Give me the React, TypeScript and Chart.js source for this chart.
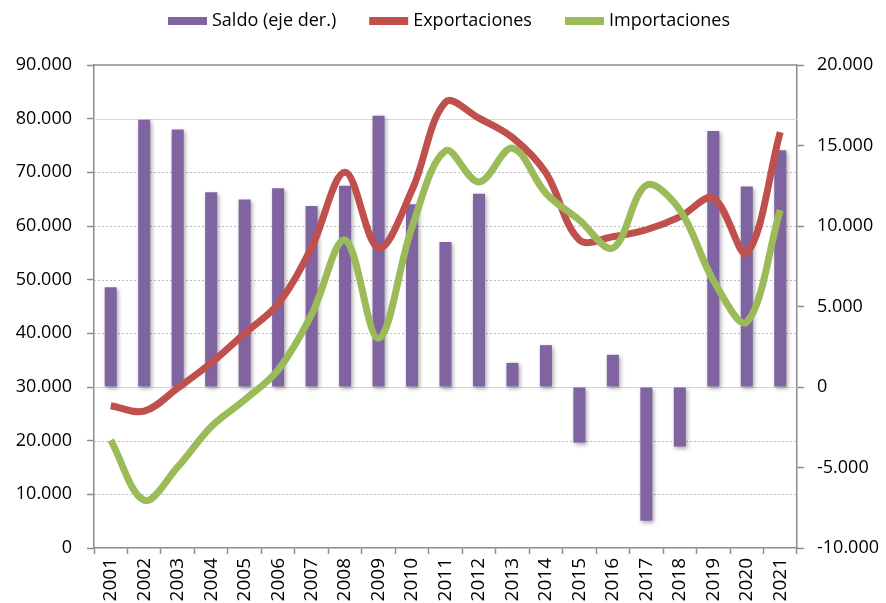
import React, { useEffect, useRef } from "react";
import { Chart, registerables } from "chart.js";

Chart.register(...registerables);

const years = [
  "2001", "2002", "2003", "2004", "2005", "2006", "2007", "2008", "2009", "2010", "2011",
  "2012", "2013", "2014", "2015", "2016", "2017", "2018", "2019", "2020", "2021",
];

const saldo = [
  6200, 16600, 16000, 12100, 11650, 12350, 11250, 12500, 16850, 11350, 9000,
  12000, 1500, 2600, -3450, 2000, -8300, -3700, 15900, 12450, 14700,
];

const exportaciones = [
  26500, 25500, 29800, 34500, 40000, 45500, 56000, 70000, 55900, 66700, 83100,
  80100, 76500, 69900, 57400, 58000, 59300, 61700, 65200, 55000, 77500,
];

const importaciones = [
  20100, 8900, 15100, 22600, 27600, 33200, 43500, 57400, 39100, 59800, 74000,
  68200, 74500, 66100, 61100, 55900, 67600, 63000, 49900, 42100, 63000,
];

const leftMin = 0;
const leftMax = 90000;
const leftStep = 10000;
const rightMin = -10000;
const rightMax = 20000;
const rightStep = 5000;

const seriesLabels = ["Saldo (eje der.)", "Exportaciones", "Importaciones"];
const seriesColors = ["#8064A2", "#C0504D", "#9BBB59"];

const FONT = "'Open Sans', 'DejaVu Sans', sans-serif";

function fmt(v: number): string {
  const s = Math.abs(Math.round(v)).toString().replace(/\B(?=(\d{3})+(?!\d))/g, ".");
  return (v < 0 ? "-" : "") + s;
}

const decorPlugin = {
  id: "decor",
  beforeDatasetsDraw(chart: any) {
    const { ctx, chartArea: a, scales } = chart;
    const y = scales.y;
    const y1 = scales.y1;
    ctx.save();
    ctx.lineWidth = 1;
    y.ticks.forEach((t: any) => {
      if (t.value <= y.min || t.value >= y.max) return;
      const py = Math.round(y.getPixelForValue(t.value)) + 0.5;
      const solid = t.value === 80000;
      ctx.strokeStyle = solid ? "#D9D9D9" : "#BDBDBD";
      ctx.setLineDash(solid ? [] : [2, 2]);
      ctx.beginPath();
      ctx.moveTo(a.left, py);
      ctx.lineTo(a.right, py);
      ctx.stroke();
    });
    // zero line of the right axis
    const pz = Math.round(y1.getPixelForValue(0)) + 0.5;
    ctx.setLineDash([]);
    ctx.strokeStyle = "#D4D4D4";
    ctx.beginPath();
    ctx.moveTo(a.left, pz);
    ctx.lineTo(a.right, pz);
    ctx.stroke();
    // top border of plot area
    ctx.strokeStyle = "#8C8C8C";
    ctx.lineWidth = 1.5;
    ctx.beginPath();
    ctx.moveTo(a.left, a.top);
    ctx.lineTo(a.right, a.top);
    ctx.stroke();
    ctx.restore();
  },
  beforeDatasetDraw(chart: any, args: any) {
    if (args.index === 0) {
      const ctx = chart.ctx;
      ctx.save();
      ctx.shadowColor = "rgba(0,0,0,0.35)";
      ctx.shadowBlur = 4;
      ctx.shadowOffsetX = 1.5;
      ctx.shadowOffsetY = 2;
    }
  },
  afterDatasetDraw(chart: any, args: any) {
    if (args.index === 0) chart.ctx.restore();
  },
  afterDraw(chart: any) {
    const ctx = chart.ctx;
    ctx.save();
    ctx.font = `18px ${FONT}`;
    ctx.textBaseline = "middle";
    ctx.textAlign = "left";
    let x = 168;
    const cy = 21;
    seriesLabels.forEach((label, i) => {
      ctx.fillStyle = seriesColors[i];
      ctx.fillRect(x, cy - 4, 39, 8);
      ctx.fillStyle = "#000";
      ctx.fillText(label, x + 44, cy);
      x += 44 + ctx.measureText(label).width + 33;
    });
    ctx.restore();
  },
};

export default function App() {
  const ref = useRef<HTMLCanvasElement | null>(null);

  useEffect(() => {
    document.body.style.margin = "0";
    if (!ref.current) return;
    Chart.defaults.font.family = FONT;
    const chart = new Chart(ref.current, {
      type: "bar",
      data: {
        labels: years,
        datasets: [
          {
            type: "bar",
            label: seriesLabels[0],
            data: saldo,
            yAxisID: "y1",
            backgroundColor: seriesColors[0],
            barPercentage: 0.36,
            categoryPercentage: 1,
            order: 3,
          } as any,
          {
            type: "line",
            label: seriesLabels[1],
            data: exportaciones,
            yAxisID: "y",
            borderColor: seriesColors[1],
            borderWidth: 7,
            pointRadius: 0,
            tension: 0.35,
            fill: false,
            borderCapStyle: "butt",
            order: 2,
          } as any,
          {
            type: "line",
            label: seriesLabels[2],
            data: importaciones,
            yAxisID: "y",
            borderColor: seriesColors[2],
            borderWidth: 7,
            pointRadius: 0,
            tension: 0.35,
            fill: false,
            borderCapStyle: "butt",
            order: 1,
          } as any,
        ],
      },
      options: {
        responsive: false,
        devicePixelRatio: 1,
        animation: false,
        layout: { padding: { top: 65, left: 0, right: 0, bottom: 0 } },
        plugins: {
          legend: { display: false },
          tooltip: { enabled: false },
        },
        scales: {
          x: {
            offset: true,
            grid: {
              offset: true,
              drawOnChartArea: false,
              drawTicks: true,
              tickLength: 6,
              tickColor: "#8C8C8C",
              tickWidth: 1.5,
            },
            border: { color: "#8C8C8C", width: 1.5 },
            ticks: {
              minRotation: 90,
              maxRotation: 90,
              autoSkip: false,
              padding: 4,
              color: "#000",
              font: { size: 19, family: FONT },
            },
            afterFit: (s: any) => {
              s.height = 55;
            },
          },
          y: {
            position: "left",
            min: leftMin,
            max: leftMax,
            ticks: {
              stepSize: leftStep,
              callback: (v: any) => fmt(Number(v)),
              padding: 15,
              color: "#000",
              font: { size: 18, family: FONT },
            },
            grid: { drawOnChartArea: false, tickLength: 7, tickColor: "#8C8C8C", tickWidth: 1.5 },
            border: { color: "#8C8C8C", width: 1.5 },
            afterFit: (s: any) => {
              s.width = 94;
            },
          },
          y1: {
            position: "right",
            min: rightMin,
            max: rightMax,
            ticks: {
              stepSize: rightStep,
              callback: (v: any) => fmt(Number(v)),
              padding: 13,
              color: "#000",
              font: { size: 18, family: FONT },
            },
            grid: { drawOnChartArea: false, tickLength: 7, tickColor: "#8C8C8C", tickWidth: 1.5 },
            border: { color: "#8C8C8C", width: 1.5 },
            afterFit: (s: any) => {
              s.width = 89;
            },
          },
        },
      } as any,
      plugins: [decorPlugin as any],
    });
    return () => chart.destroy();
  }, []);

  return <canvas ref={ref} width={886} height={603} style={{ display: "block" }} />;
}
